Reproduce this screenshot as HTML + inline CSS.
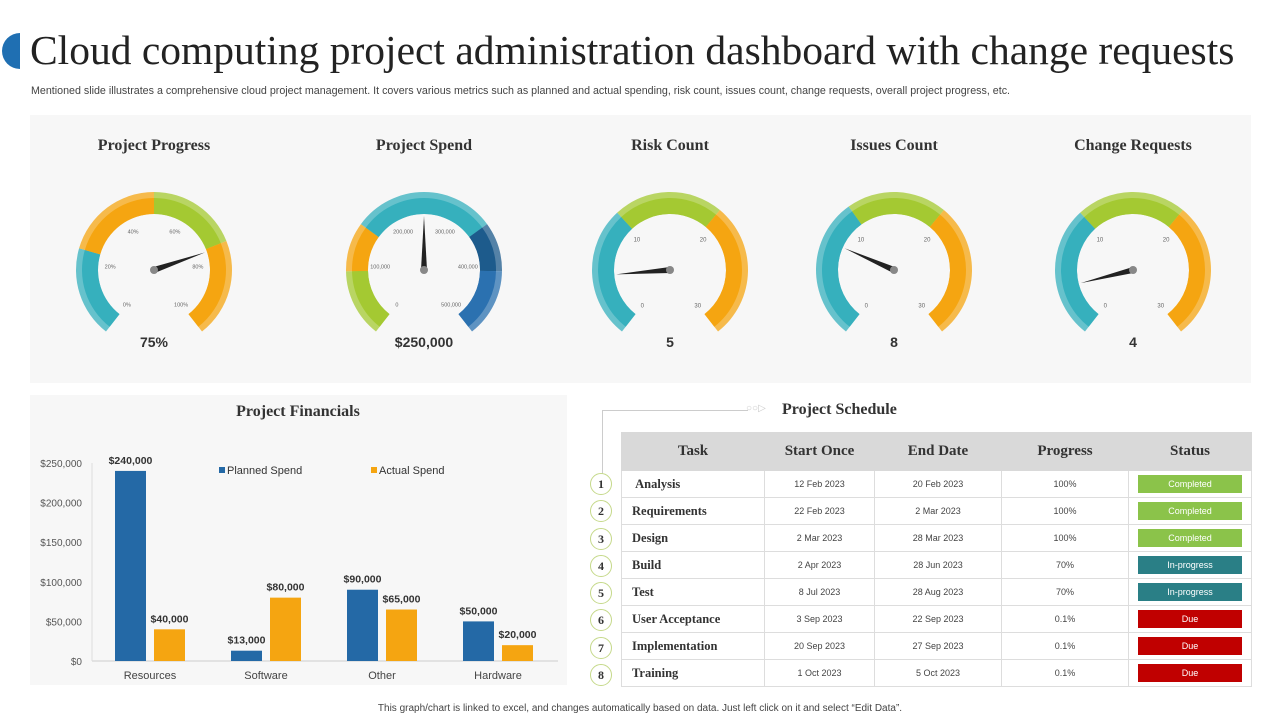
<!DOCTYPE html>
<html><head><meta charset="utf-8">
<style>
body{margin:0;width:1280px;height:720px;background:#fff;font-family:"Liberation Sans",sans-serif;position:relative;overflow:hidden}
.abs{position:absolute}
.serif{font-family:"Liberation Serif",serif}
table{border-collapse:collapse}
td,th{border:1px solid #ddd;padding:0;text-align:center;font-size:9px;color:#444}
th{background:#d9d9d9;font-family:"Liberation Serif",serif;font-size:15px;color:#333;height:37px;border-color:#d9d9d9}
td{height:26px}
td.task{text-align:left;padding-left:10px;font-family:"Liberation Serif",serif;font-weight:bold;font-size:12.5px;color:#333}
.st{display:inline-block;width:104px;height:18px;line-height:18px;color:#fff;font-size:9px}
.num{position:absolute;left:590px;width:20px;height:20px;border:1.5px solid #c5d98a;border-radius:50%;text-align:center;line-height:20px;font-family:"Liberation Serif",serif;font-weight:bold;font-size:12px;color:#333;background:#fff}
</style></head><body>
<div class="abs" style="left:2px;top:33px;width:18px;height:36px;background:#1f6fb2;border-radius:18px 0 0 18px"></div>
<div class="abs serif" style="left:30px;top:26px;font-size:41.5px;color:#222;white-space:nowrap">Cloud computing project administration dashboard with change requests</div>
<div class="abs" style="left:31px;top:85px;font-size:10.7px;color:#444;white-space:nowrap">Mentioned slide illustrates a comprehensive cloud project management. It covers various metrics such as planned and actual spending, risk count, issues count, change requests, overall project progress, etc.</div>
<div class="abs" style="left:30px;top:115px;width:1221px;height:268px;background:#f7f7f7"></div>
<div class="abs" style="left:30px;top:395px;width:537px;height:290px;background:#f7f7f7"></div>
<svg class="abs" id="g" style="left:0;top:0" width="1280" height="720"></svg>
<svg class="abs" id="c" style="left:0;top:0" width="1280" height="720"></svg>

<div class="abs" style="left:602px;top:410px;width:145px;height:65px;border-left:1px solid #ccc;border-top:1px solid #ccc"></div>
<div class="abs" style="left:746px;top:403px;font-size:10px;color:#ccc">○○▷</div>
<div class="abs serif" style="left:782px;top:401px;font-size:16px;font-weight:bold;color:#333">Project Schedule</div>
<table class="abs" style="left:621px;top:432px;width:631px">
<tr><th style="width:142px">Task</th><th style="width:109px">Start Once</th><th style="width:126px">End Date</th><th style="width:126px">Progress</th><th>Status</th></tr>
<tr><td class="task">&nbsp;Analysis</td><td>12 Feb 2023</td><td>20 Feb 2023</td><td>100%</td><td><span class="st" style="background:#8bc34a">Completed</span></td></tr>
<tr><td class="task">Requirements</td><td>22 Feb 2023</td><td>2 Mar 2023</td><td>100%</td><td><span class="st" style="background:#8bc34a">Completed</span></td></tr>
<tr><td class="task">Design</td><td>2 Mar 2023</td><td>28 Mar 2023</td><td>100%</td><td><span class="st" style="background:#8bc34a">Completed</span></td></tr>
<tr><td class="task">Build</td><td>2 Apr 2023</td><td>28 Jun 2023</td><td>70%</td><td><span class="st" style="background:#2a7f86">In-progress</span></td></tr>
<tr><td class="task">Test</td><td>8 Jul 2023</td><td>28 Aug 2023</td><td>70%</td><td><span class="st" style="background:#2a7f86">In-progress</span></td></tr>
<tr><td class="task">User Acceptance</td><td>3 Sep 2023</td><td>22 Sep 2023</td><td>0.1%</td><td><span class="st" style="background:#c00000">Due</span></td></tr>
<tr><td class="task">Implementation</td><td>20 Sep 2023</td><td>27 Sep 2023</td><td>0.1%</td><td><span class="st" style="background:#c00000">Due</span></td></tr>
<tr><td class="task">Training</td><td>1 Oct 2023</td><td>5 Oct 2023</td><td>0.1%</td><td><span class="st" style="background:#c00000">Due</span></td></tr>
</table>
<div class="num" style="top:473px">1</div>
<div class="num" style="top:500px">2</div>
<div class="num" style="top:528px">3</div>
<div class="num" style="top:555px">4</div>
<div class="num" style="top:582px">5</div>
<div class="num" style="top:609px">6</div>
<div class="num" style="top:637px">7</div>
<div class="num" style="top:664px">8</div>
<div class="abs" style="left:0;width:1280px;text-align:center;top:703px;font-size:10px;color:#444">This graph/chart is linked to excel, and changes automatically based on data. Just left click on it and select “Edit Data”.</div>
<script>
const NS="http://www.w3.org/2000/svg";
function mk(p,t,a){const e=document.createElementNS(NS,t);for(const k in a)e.setAttribute(k,a[k]);p.appendChild(e);return e;}
// ---- gauges data
const gaugeTitles=["Project Progress","Project Spend","Risk Count","Issues Count","Change Requests"];
const gaugeLabels=["75%","$250,000","5","8","4"];
const gaugeValues=[75,250000,5,8,4];
const gaugeMax=[100,500000,30,30,30];
const g=document.getElementById('g');
const cx=[154,424,670,894,1133],cy=270,R=78,W=22,A0=232,A1=-52;
const segs=[
 [[0,0.24,'#36b0bd'],[0,0.5,'#f5a511'],[0,0.74,'#a4c932'],[0,1,'#f5a511']],
 [[0,0.18,'#a4c932'],[0,0.31,'#f5a511'],[0,0.69,'#36b0bd'],[0,0.82,'#1d5b8c'],[0,1,'#2b71b0']],
 [[0,0.35,'#36b0bd'],[0,0.64,'#a4c932'],[0,1,'#f5a511']],
 [[0,0.375,'#36b0bd'],[0,0.64,'#a4c932'],[0,1,'#f5a511']],
 [[0,0.35,'#36b0bd'],[0,0.64,'#a4c932'],[0,1,'#f5a511']]];
function pt(x,y,r,a){const t=a*Math.PI/180;return [x+r*Math.cos(t),y-r*Math.sin(t)];}
function arc(x,y,r1,r2,a,b){const p1=pt(x,y,r2,a),p2=pt(x,y,r2,b),p3=pt(x,y,r1,b),p4=pt(x,y,r1,a);const l=(a-b)>180?1:0;
 return `M${p1} A${r2},${r2} 0 ${l} 1 ${p2} L${p3} A${r1},${r1} 0 ${l} 0 ${p4}Z`;}
gaugeTitles.forEach((t,i)=>{
 const tx=mk(g,'text',{x:cx[i],y:150,'text-anchor':'middle','font-family':'Liberation Serif,serif','font-size':16,'font-weight':'bold',fill:'#333'});tx.textContent=t;
 
 
 let prev=0;
 segs[i].forEach((s,j)=>{
  const f0=prev,f1=s[1];prev=f1;
  const a=A0-(A0-A1)*f0,b=A0-(A0-A1)*f1;
  const p=mk(g,'path',{d:arc(cx[i],cy,R-W,R,a,b),fill:s[2],opacity:0.75});
  
  
  mk(g,'path',{d:arc(cx[i],cy,R-W,R-6,a,b),fill:s[2]});
 });
 const f=gaugeValues[i]/gaugeMax[i],ang=A0-(A0-A1)*f;
 const tip=pt(cx[i],cy,R-W-2,ang),b1=pt(cx[i],cy,3,ang+90),b2=pt(cx[i],cy,3,ang-90);
 const n=mk(g,'polygon',{points:`${tip} ${b1} ${b2}`,fill:'#222'});
 
 
 mk(g,'circle',{cx:cx[i],cy:cy,r:4,fill:'#888'});
 const v=mk(g,'text',{x:cx[i],y:347,'text-anchor':'middle','font-size':14,'font-weight':'bold',fill:'#333'});v.textContent=gaugeLabels[i];
 
 
});
const tickSets=[["0%","20%","40%","60%","80%","100%"],["0","100,000","200,000","300,000","400,000","500,000"],["0","10","20","30"],["0","10","20","30"],["0","10","20","30"]];
tickSets.forEach((ts,i)=>{ts.forEach((t,k)=>{
 const a=A0-(A0-A1)*k/(ts.length-1);const p=pt(cx[i],cy,i<2?R-34:R-33,a);
 const e=mk(g,'text',{x:p[0],y:p[1]+2,'text-anchor':'middle','font-size':i<2?5.5:6,fill:'#666'});e.textContent=t;});});
// ---- bar chart data
const categories=["Resources","Software","Other","Hardware"];
const planned=[240000,13000,90000,50000];
const actual=[40000,80000,65000,20000];
const yTicks=[0,50000,100000,150000,200000,250000];
const c=document.getElementById('c');
const y0=661,ys=198/250000,x0=92,gw=116;
const Y=v=>y0-v*ys,X=i=>x0+gw*i+gw/2;
const fmt=v=>'$'+v.toLocaleString('en-US');
const tt=mk(c,'text',{x:298,y:416,'text-anchor':'middle','font-family':'Liberation Serif,serif','font-size':16,'font-weight':'bold',fill:'#333'});tt.textContent='Project Financials';
yTicks.forEach(v=>{const e=mk(c,'text',{x:82,y:Y(v)+4,'text-anchor':'end','font-size':10,fill:'#555'});e.textContent=fmt(v);});
mk(c,'line',{x1:x0,y1:y0,x2:558,y2:y0,stroke:'#ccc'});
mk(c,'line',{x1:x0,y1:463,x2:x0,y2:y0,stroke:'#ddd'});
categories.forEach((cat,i)=>{
 const l=mk(c,'text',{x:X(i),y:679,'text-anchor':'middle','font-size':11,fill:'#444'});l.textContent=cat;
 [[planned,'#2469a6',-35],[actual,'#f5a511',4]].forEach(([arr,col,off])=>{
  const b=mk(c,'rect',{x:X(i)+off,y:Y(arr[i]),width:31,height:arr[i]*ys,fill:col});
  
  
  const t=mk(c,'text',{x:X(i)+off+15.5,y:Y(arr[i])-7,'text-anchor':'middle','font-size':10.5,'font-weight':'bold',fill:'#333'});t.textContent=fmt(arr[i]);
 });
});
mk(c,'rect',{x:219,y:467,width:6,height:6,fill:'#2469a6'});
const lg1=mk(c,'text',{x:227,y:474,'font-size':11,fill:'#333'});lg1.textContent='Planned Spend';


mk(c,'rect',{x:371,y:467,width:6,height:6,fill:'#f5a511'});
const lg2=mk(c,'text',{x:379,y:474,'font-size':11,fill:'#333'});lg2.textContent='Actual Spend';


</script>
</body></html>
